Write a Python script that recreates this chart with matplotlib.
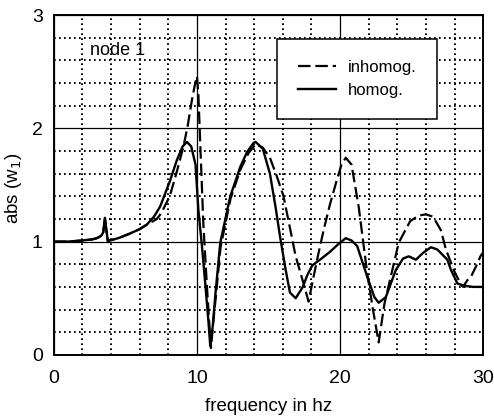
import matplotlib
matplotlib.use("Agg")
import matplotlib.pyplot as plt
from matplotlib.ticker import MultipleLocator

plt.rcParams["font.family"] = ["Liberation Sans", "DejaVu Sans"]
plt.rcParams["lines.scale_dashes"] = False

# frequency response at node 1, inhomogeneous soil
freq_inhomog = [0.0, 1.0, 2.0, 2.7, 3.0, 3.3, 3.45, 3.57, 3.65, 3.78, 3.9, 4.5, 5.3, 6.0, 6.5,
                6.8, 7.2, 7.5, 8.1, 8.6, 9.06, 9.35, 9.65, 9.85, 10.0, 10.1, 10.25, 10.45,
                10.7, 10.85, 10.98, 11.15, 11.35, 11.65, 12.35, 13.05, 13.6, 14.1, 14.6,
                15.1, 15.6, 16.05, 16.5, 16.9, 17.45, 17.8, 18.15, 18.5, 18.85, 19.3, 19.7,
                20.1, 20.4, 20.8, 21.3, 21.9, 22.3, 22.7, 23.1, 23.6, 24.1, 24.9, 25.5,
                26.0, 26.5, 27.05, 27.4, 27.98, 28.45, 28.6, 28.9, 29.15, 29.5, 29.85, 30.0]
abs_inhomog = [1.0, 1.0, 1.01, 1.02, 1.03, 1.05, 1.08, 1.21, 1.12, 1.0, 1.01, 1.03, 1.07, 1.11,
               1.15, 1.17, 1.2, 1.25, 1.40, 1.62, 1.84, 2.02, 2.25, 2.38, 2.46, 2.3, 1.8,
               1.15, 0.6, 0.3, 0.06, 0.3, 0.55, 0.95, 1.38, 1.64, 1.78, 1.86, 1.83, 1.74,
               1.57, 1.40, 1.12, 0.87, 0.63, 0.47, 0.69, 0.9, 1.10, 1.33, 1.51, 1.68, 1.74,
               1.68, 1.31, 0.72, 0.4, 0.11, 0.45, 0.72, 0.99, 1.18, 1.23, 1.24, 1.22, 1.10,
               0.93, 0.74, 0.62, 0.60, 0.66, 0.69, 0.78, 0.88, 0.90]

# frequency response at node 1, homogeneous soil
freq_homog = [0.0, 1.0, 2.0, 2.7, 3.0, 3.3, 3.45, 3.57, 3.65, 3.78, 3.9, 4.5, 5.3, 6.0, 6.5,
              7.0, 7.43, 8.1, 8.6, 9.0, 9.3, 9.6, 9.9, 10.1, 10.35, 10.6, 10.8, 10.93, 11.1,
              11.3, 11.63, 12.33, 13.03, 13.5, 13.95, 14.1, 14.6, 15.1, 15.5, 15.8, 16.2,
              16.5, 16.9, 17.4, 17.7, 18.06, 18.6, 19.3, 19.9, 20.4, 20.8, 21.2, 21.9, 22.4,
              22.7, 23.2, 23.9, 24.4, 24.8, 25.3, 25.8, 26.35, 26.8, 27.5, 27.75, 28.2,
              28.7, 29.3, 30.0]
abs_homog = [1.0, 1.0, 1.01, 1.02, 1.03, 1.05, 1.08, 1.21, 1.12, 1.0, 1.01, 1.03, 1.07, 1.11,
             1.15, 1.22, 1.31, 1.53, 1.72, 1.84, 1.88, 1.84, 1.68, 1.28, 0.96, 0.6, 0.3,
             0.08, 0.25, 0.55, 0.99, 1.40, 1.66, 1.79, 1.87, 1.88, 1.82, 1.6, 1.3, 1.05,
             0.75, 0.55, 0.50, 0.60, 0.70, 0.79, 0.84, 0.91, 0.98, 1.03, 1.01, 0.96, 0.69,
             0.51, 0.46, 0.51, 0.75, 0.85, 0.87, 0.84, 0.90, 0.95, 0.93, 0.84, 0.75, 0.63,
             0.61, 0.60, 0.60]

fig = plt.figure(figsize=(4.94, 4.17), dpi=100)
ax = fig.add_axes([0.109, 0.149, 0.869, 0.815])

ax.set_xlim(0, 30)
ax.set_ylim(0, 3)
ax.xaxis.set_major_locator(MultipleLocator(10))
ax.yaxis.set_major_locator(MultipleLocator(1))
ax.xaxis.set_minor_locator(MultipleLocator(2))
ax.yaxis.set_minor_locator(MultipleLocator(0.2))

ax.grid(which="major", color="black", linewidth=0.9, linestyle="-")
ax.grid(which="minor", color="black", linewidth=1.4, linestyle=(0, (1.2, 2.4)))
ax.set_axisbelow(True)
ax.tick_params(which="both", length=0, labelsize=14)
ax.tick_params(axis="x", pad=11)
ax.tick_params(axis="y", pad=8)

for s in ax.spines.values():
    s.set_linewidth(1.4)

l1, = ax.plot(freq_inhomog, abs_inhomog, color="black", linewidth=1.6,
              linestyle=(0, (9, 3.5)), label="inhomog.")
l2, = ax.plot(freq_homog, abs_homog, color="black", linewidth=1.7,
              linestyle="-", label="homog.")

leg = ax.legend(handles=[l1, l2], loc="upper right", bbox_to_anchor=(0.893, 0.929),
                borderaxespad=0, frameon=True, fancybox=False, edgecolor="black",
                framealpha=1, fontsize=12, handlelength=2.3, handletextpad=0.7,
                borderpad=1.25, labelspacing=0.5)
leg.get_frame().set_linewidth(1.1)

ax.text(2.5, 2.69, "node 1", fontsize=13, va="center", ha="left")

ax.set_xlabel("frequency in hz", fontsize=13.5, labelpad=8)
ax.set_ylabel("abs (w$_1$)", fontsize=13.5)
ax.yaxis.set_label_coords(-0.07, 0.49)

fig.savefig("out.png", dpi=100)
